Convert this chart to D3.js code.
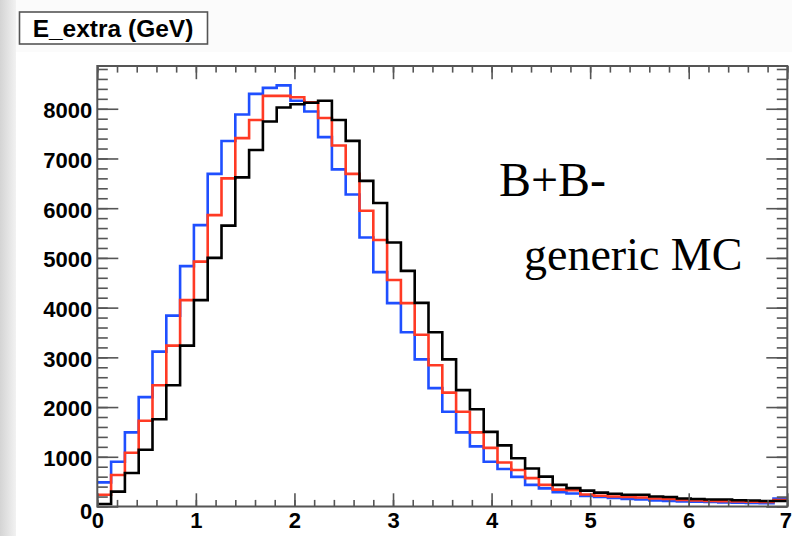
<!DOCTYPE html>
<html>
<head>
<meta charset="utf-8">
<script src="https://cdn.jsdelivr.net/npm/d3@7"></script>
<style>
  html, body { margin: 0; padding: 0; background: #ffffff; }
  #chart { width: 792px; height: 536px; }
  .tick text { font-family: "Liberation Sans", Arial, sans-serif; font-weight: bold; font-size: 22px; fill: #000; }
</style>
</head>
<body>
<div id="chart"></div>
<script>
// E_extra histograms, 50 bins between 0 and 7 GeV
const binCount = 50;
const xMin = 0, xMax = 7;
const xTickLabels = [0, 1, 2, 3, 4, 5, 6, 7];
const yTickLabels = [0, 1000, 2000, 3000, 4000, 5000, 6000, 7000, 8000];

const blueCounts = [485, 900, 1490, 2200, 3115, 3840, 4835, 5660, 6690, 7350,
  7885, 8300, 8420, 8470, 8160, 7945, 7430, 6780, 6275, 5410,
  4715, 4090, 3505, 2960, 2380, 1905, 1490, 1210, 900, 755,
  595, 435, 365, 290, 260, 210, 190, 170, 150, 140,
  120, 110, 100, 95, 90, 80, 75, 70, 65, 160];

const redCounts = [235, 635, 1080, 1725, 2440, 3235, 4150, 4925, 5860, 6600,
  7410, 7775, 8260, 8260, 8230, 8130, 7815, 7260, 6690, 5950,
  5360, 4555, 4090, 3455, 2840, 2290, 1905, 1490, 1180, 885,
  735, 570, 435, 340, 330, 240, 215, 200, 190, 180,
  160, 150, 130, 120, 110, 105, 100, 95, 90, 130];

const blackCounts = [50, 300, 675, 1140, 1755, 2440, 3235, 4150, 5000, 5650,
  6620, 7170, 7745, 8025, 8090, 8120, 8160, 7775, 7355, 6550,
  6105, 5310, 4740, 4095, 3505, 2960, 2340, 1955, 1500, 1230,
  970, 765, 600, 435, 370, 320, 280, 255, 235, 235,
  200, 190, 160, 150, 140, 140, 125, 120, 110, 110];

const series = [
  { name: "blue", color: "#1f4fff", counts: blueCounts },
  { name: "red", color: "#ff3a24", counts: redCounts },
  { name: "black", color: "#000000", counts: blackCounts }
];

const W = 792, H = 536;
const margin = { top: 66, right: 4.7, bottom: 29.5, left: 97.3 };
const width = W - margin.left - margin.right;
const height = H - margin.top - margin.bottom;
const yMax = 8860;

const svg = d3.select("#chart").append("svg")
  .attr("width", W)
  .attr("height", H);

// page background with grey strip on the left
const defs = svg.append("defs");
const grad = defs.append("linearGradient").attr("id", "strip").attr("x1", 0).attr("x2", 1);
grad.append("stop").attr("offset", "0%").attr("stop-color", "#d4d4d4");
grad.append("stop").attr("offset", "100%").attr("stop-color", "#f2f2f2");
svg.append("rect").attr("width", W).attr("height", H).attr("fill", "#fbfbfb");
svg.append("rect").attr("x", 0).attr("y", 0).attr("width", 16).attr("height", H).attr("fill", "url(#strip)");
svg.append("rect").attr("x", 16).attr("y", 52).attr("width", W - 16).attr("height", H - 52).attr("fill", "#ffffff");

const g = svg.append("g").attr("transform", `translate(${margin.left},${margin.top})`);

const x = d3.scaleLinear().domain([xMin, xMax]).range([0, width]);
const y = d3.scaleLinear().domain([0, yMax]).range([height, 0]);
const binWidth = (xMax - xMin) / binCount;

g.append("rect")
  .attr("width", width)
  .attr("height", height)
  .attr("fill", "#ffffff");

// histograms as step lines
const step = d3.line()
  .x(d => x(d[0]))
  .y(d => y(d[1]))
  .curve(d3.curveStepAfter);

series.forEach(s => {
  const pts = s.counts.map((c, i) => [xMin + i * binWidth, c]);
  pts.push([xMax, s.counts[s.counts.length - 1]]);
  g.append("path")
    .attr("d", step(pts))
    .attr("fill", "none")
    .attr("stroke", s.color)
    .attr("stroke-width", 2.6)
    .attr("stroke-linejoin", "miter");
});

// axes, ticks pointing inside like ROOT
const axisColor = "#555";
const yMinor = d3.range(0, yMax, 200);
const xMinor = d3.range(0, xMax + 0.001, 0.2);

function styleAxis(sel) {
  sel.select(".domain").remove();
  sel.selectAll("line").attr("stroke", axisColor).attr("stroke-width", 1.6);
}

// minor ticks
g.append("g").call(d3.axisLeft(y).tickValues(yMinor).tickSize(-10.5).tickFormat("")).call(styleAxis);
g.append("g").attr("transform", `translate(${width},0)`)
  .call(d3.axisRight(y).tickValues(yMinor).tickSize(-10.5).tickFormat("")).call(styleAxis);
g.append("g").attr("transform", `translate(0,${height})`)
  .call(d3.axisBottom(x).tickValues(xMinor).tickSize(-6.6).tickFormat("")).call(styleAxis);
g.append("g")
  .call(d3.axisTop(x).tickValues(xMinor).tickSize(-6.6).tickFormat("")).call(styleAxis);

// major ticks with labels
const yAxis = g.append("g")
  .call(d3.axisLeft(y).tickValues(yTickLabels).tickSize(-21).tickPadding(5).tickFormat(d3.format("d")))
  .call(styleAxis);
yAxis.selectAll(".tick text").attr("dy", d => d === 0 ? "0.55em" : "0.4em");

g.append("g").attr("transform", `translate(${width},0)`)
  .call(d3.axisRight(y).tickValues(yTickLabels).tickSize(-21).tickFormat(""))
  .call(styleAxis);

const xAxis = g.append("g").attr("transform", `translate(0,${height})`)
  .call(d3.axisBottom(x).tickValues(xTickLabels).tickSize(-13.2).tickPadding(6).tickFormat(d3.format("d")))
  .call(styleAxis);
// keep the last label inside the page
xAxis.selectAll(".tick text").attr("dx", d => d === xMax ? -2 : 0);

g.append("g")
  .call(d3.axisTop(x).tickValues(xTickLabels).tickSize(-13.2).tickFormat(""))
  .call(styleAxis);

// frame
g.append("rect")
  .attr("width", width)
  .attr("height", height)
  .attr("fill", "none")
  .attr("stroke", axisColor)
  .attr("stroke-width", 2);

// title box
const title = svg.append("g");
title.append("rect")
  .attr("x", 19.5).attr("y", 12).attr("width", 188).attr("height", 32)
  .attr("fill", "#ffffff").attr("stroke", "#555").attr("stroke-width", 1.6);
title.append("text")
  .attr("x", 113).attr("y", 36.5)
  .attr("text-anchor", "middle")
  .attr("font-family", "Liberation Sans, Arial, sans-serif")
  .attr("font-weight", "bold")
  .attr("font-size", 24.5)
  .text("E_extra (GeV)");

// annotation
svg.append("text")
  .attr("x", 499).attr("y", 196)
  .attr("font-family", "Liberation Serif, Times New Roman, serif")
  .attr("font-size", 48)
  .text("B+B-");
svg.append("text")
  .attr("x", 524).attr("y", 270)
  .attr("font-family", "Liberation Serif, Times New Roman, serif")
  .attr("font-size", 46)
  .text("generic MC");
</script>
</body>
</html>
